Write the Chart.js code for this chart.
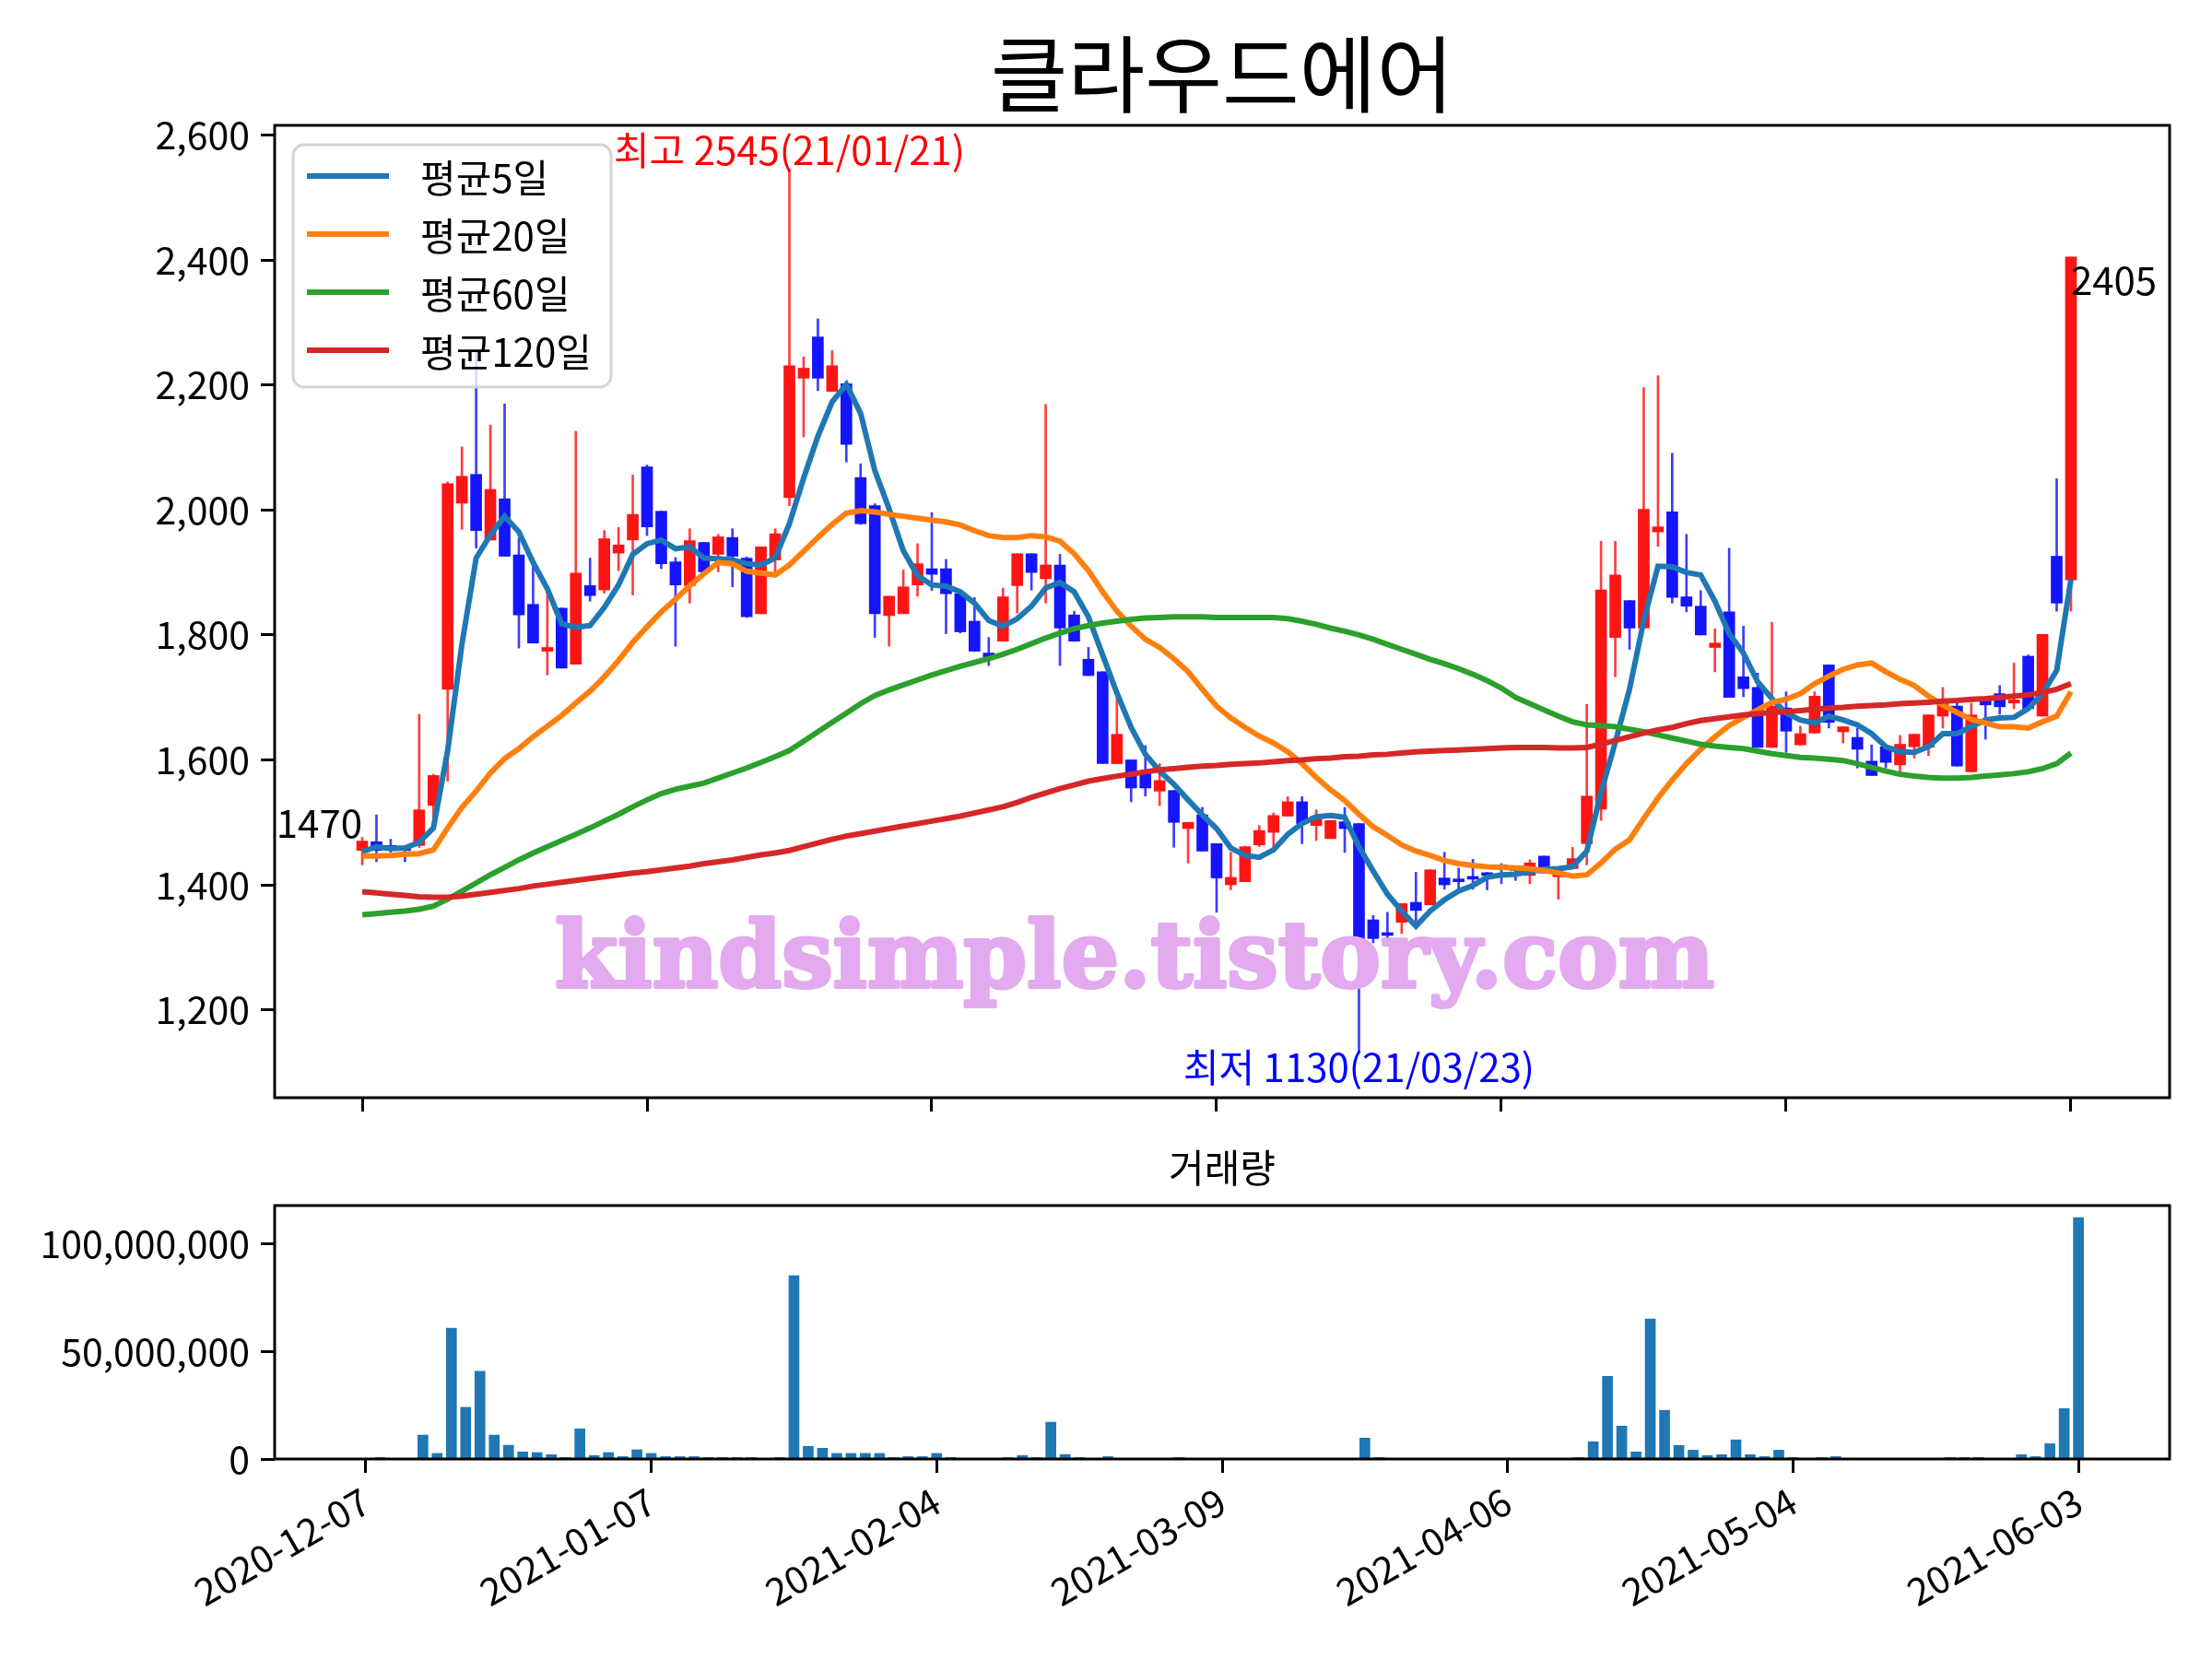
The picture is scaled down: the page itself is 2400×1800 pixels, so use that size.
<!DOCTYPE html>
<html>
<head>
<meta charset="utf-8">
<script src="https://cdn.jsdelivr.net/npm/chart.js@4.4.1/dist/chart.umd.min.js"></script>
<style>
  body { margin: 0; background: #fff; width: 2400px; height: 1800px; overflow: hidden; position: relative; }
  #price { position: absolute; left: 0; top: 0; }
  #volume { position: absolute; left: 0; top: 1230px; }
</style>
</head>
<body>
<canvas id="price" width="2400" height="1250"></canvas>
<canvas id="volume" width="2400" height="570"></canvas>
<script>
// DATA
const tickIdx = [0, 20, 40, 60, 80, 100, 120];
const tickLabels = ["2020-12-07", "2021-01-07", "2021-02-04", "2021-03-09", "2021-04-06", "2021-05-04", "2021-06-03"];

const openP = [1455, 1469, 1463, 1458, 1463, 1527, 1713, 2011, 2057, 1952, 2018, 1928, 1849, 1774, 1843, 1753, 1879, 1872, 1931, 1952,
  2069, 1998, 1917, 1879, 1948, 1929, 1956, 1923, 1834, 1920, 2020, 2211, 2277, 2190, 2202, 2052, 2007, 1831, 1834, 1880,
  1906, 1906, 1866, 1822, 1771, 1790, 1879, 1930, 1890, 1912, 1832, 1761, 1741, 1594, 1600, 1582, 1550, 1551, 1490, 1512,
  1466, 1400, 1405, 1464, 1484, 1510, 1533, 1495, 1474, 1501, 1498, 1344, 1323, 1340, 1372, 1368, 1411, 1407, 1412, 1417,
  1432, 1426, 1415, 1446, 1413, 1426, 1466, 1521, 1796, 1855, 1811, 1965, 1997, 1861, 1846, 1780, 1837, 1733, 1716, 1620,
  1683, 1624, 1643, 1752, 1645, 1636, 1598, 1621, 1592, 1621, 1620, 1670, 1686, 1581, 1696, 1706, 1691, 1766, 1670, 1926, 1888];
const highP = [1476, 1512, 1473, 1462, 1673, 1577, 2045, 2101, 2257, 2136, 2170, 1955, 1923, 1870, 1843, 2126, 1923, 1967, 1972, 2056,
  2072, 1998, 1924, 1970, 1948, 1961, 1970, 1925, 1941, 1970, 2545, 2245, 2306, 2255, 2202, 2074, 2010, 1862, 1904, 1946,
  1996, 1921, 1868, 1860, 1796, 1875, 1930, 1930, 2169, 1929, 1838, 1780, 1741, 1713, 1600, 1623, 1594, 1551, 1500, 1524,
  1466, 1452, 1462, 1495, 1515, 1541, 1541, 1520, 1503, 1524, 1498, 1351, 1356, 1370, 1420, 1424, 1452, 1427, 1441, 1420,
  1434, 1430, 1440, 1446, 1425, 1460, 1689, 1950, 1950, 1855, 2196, 2215, 2091, 1961, 1871, 1810, 1939, 1814, 1739, 1820,
  1709, 1654, 1709, 1752, 1653, 1651, 1624, 1621, 1639, 1641, 1672, 1716, 1691, 1691, 1696, 1719, 1755, 1768, 1801, 2050, 2405];
const lowP = [1432, 1437, 1452, 1437, 1460, 1491, 1566, 1969, 1939, 1952, 1926, 1779, 1787, 1736, 1747, 1753, 1854, 1867, 1903, 1864,
  1959, 1906, 1782, 1851, 1901, 1901, 1877, 1828, 1834, 1901, 2007, 2117, 2191, 2190, 2077, 1977, 1796, 1782, 1834, 1862,
  1871, 1802, 1803, 1774, 1751, 1790, 1835, 1872, 1851, 1751, 1790, 1735, 1594, 1594, 1533, 1542, 1527, 1460, 1435, 1454,
  1356, 1392, 1405, 1461, 1461, 1510, 1466, 1471, 1474, 1452, 1130, 1307, 1314, 1322, 1341, 1368, 1393, 1393, 1393, 1392,
  1402, 1407, 1402, 1419, 1377, 1426, 1432, 1503, 1733, 1777, 1811, 1942, 1851, 1837, 1800, 1741, 1700, 1701, 1620, 1620,
  1612, 1624, 1643, 1651, 1627, 1587, 1575, 1587, 1582, 1603, 1607, 1651, 1590, 1581, 1633, 1673, 1682, 1682, 1670, 1838, 1838];
const closeP = [1470, 1455, 1455, 1455, 1520, 1575, 2042, 2054, 1967, 2033, 1926, 1832, 1787, 1780, 1747, 1899, 1863, 1954, 1944, 1993,
  1973, 1914, 1880, 1951, 1901, 1957, 1926, 1829, 1941, 1962, 2231, 2227, 2211, 2231, 2105, 1978, 1834, 1862, 1877, 1914,
  1897, 1866, 1805, 1774, 1761, 1861, 1930, 1900, 1912, 1811, 1790, 1735, 1594, 1641, 1555, 1555, 1567, 1500, 1500, 1454,
  1411, 1412, 1461, 1487, 1511, 1533, 1498, 1510, 1503, 1490, 1309, 1314, 1319, 1370, 1359, 1424, 1400, 1405, 1409, 1415,
  1425, 1423, 1435, 1419, 1415, 1442, 1542, 1872, 1896, 1811, 2001, 1973, 1860, 1846, 1800, 1787, 1700, 1714, 1620, 1686,
  1646, 1642, 1702, 1660, 1653, 1617, 1575, 1596, 1625, 1641, 1672, 1692, 1590, 1672, 1688, 1685, 1696, 1682, 1801, 1851, 2405];

const ma5 = [1453, 1461, 1458, 1459, 1468, 1491, 1615, 1785, 1923, 1960, 1990, 1965, 1916, 1874, 1818, 1812, 1815, 1844, 1880, 1929,
  1946, 1952, 1938, 1941, 1923, 1922, 1920, 1914, 1912, 1923, 1978, 2051, 2118, 2173, 2201, 2155, 2063, 2002, 1935, 1895,
  1880, 1878, 1869, 1851, 1823, 1814, 1826, 1846, 1875, 1884, 1869, 1829, 1768, 1707, 1652, 1609, 1582, 1561, 1536, 1512,
  1490, 1459, 1447, 1444, 1456, 1481, 1498, 1509, 1511, 1508, 1461, 1422, 1385, 1358, 1334, 1358, 1376, 1390, 1399, 1412,
  1416, 1417, 1421, 1425, 1426, 1429, 1454, 1548, 1628, 1713, 1823, 1910, 1909, 1900, 1896, 1854, 1802, 1771, 1725, 1698,
  1675, 1664, 1659, 1670, 1664, 1656, 1642, 1621, 1613, 1612, 1621, 1642, 1642, 1653, 1664, 1667, 1668, 1682, 1706, 1743, 1889];
const ma20 = [1446, 1446, 1447, 1449, 1450, 1456, 1491, 1524, 1550, 1579, 1602, 1618, 1637, 1654, 1671, 1691, 1710, 1733, 1759, 1788,
  1813, 1837, 1857, 1879, 1898, 1916, 1914, 1902, 1899, 1896, 1912, 1934, 1956, 1977, 1995, 1999, 1997, 1993, 1990, 1987,
  1984, 1981, 1976, 1967, 1959, 1956, 1956, 1959, 1957, 1950, 1930, 1903, 1869, 1838, 1814, 1793, 1780, 1762, 1741, 1713,
  1686, 1667, 1652, 1638, 1627, 1613, 1594, 1572, 1552, 1535, 1513, 1493, 1479, 1464, 1454, 1447, 1439, 1434, 1431, 1429,
  1428, 1427, 1426, 1423, 1419, 1414, 1416, 1435, 1457, 1472, 1506, 1539, 1568, 1594, 1617, 1637, 1655, 1668, 1680, 1692,
  1697, 1706, 1722, 1734, 1745, 1752, 1755, 1741, 1729, 1719, 1702, 1688, 1676, 1665, 1659, 1653, 1653, 1651, 1661, 1670, 1709];
const ma60 = [1352, 1354, 1356, 1358, 1361, 1366, 1377, 1390, 1403, 1416, 1428, 1440, 1451, 1461, 1471, 1481, 1491, 1502, 1513, 1525,
  1536, 1546, 1553, 1558, 1563, 1571, 1579, 1587, 1596, 1605, 1615, 1630, 1645, 1660, 1675, 1690, 1703, 1712, 1720, 1728,
  1736, 1743, 1750, 1756, 1762, 1769, 1777, 1786, 1795, 1803, 1810, 1815, 1819, 1822, 1825, 1827, 1828, 1829, 1829, 1829,
  1828, 1828, 1828, 1828, 1828, 1826, 1822, 1817, 1811, 1806, 1800, 1793, 1785, 1777, 1769, 1761, 1754, 1746, 1737, 1727,
  1715, 1700, 1690, 1680, 1670, 1661, 1656, 1655, 1653, 1649, 1645, 1640, 1635, 1630, 1625, 1622, 1620, 1618, 1614, 1610,
  1607, 1604, 1603, 1601, 1599, 1594, 1588, 1582, 1577, 1574, 1572, 1571, 1571, 1572, 1574, 1576, 1578, 1581, 1586, 1594, 1611];
const ma120 = [1389, 1387, 1385, 1383, 1381, 1380, 1380, 1382, 1385, 1388, 1391, 1394, 1398, 1401, 1404, 1407, 1410, 1413, 1416, 1419,
  1421, 1424, 1427, 1430, 1434, 1437, 1440, 1444, 1448, 1451, 1455, 1461, 1467, 1473, 1478, 1482, 1486, 1490, 1494, 1498,
  1502, 1506, 1510, 1515, 1520, 1525, 1532, 1540, 1547, 1554, 1560, 1566, 1570, 1574, 1577, 1581, 1584, 1586, 1588, 1590,
  1591, 1593, 1594, 1595, 1597, 1599, 1600, 1602, 1603, 1605, 1606, 1608, 1609, 1611, 1613, 1614, 1615, 1616, 1617, 1618,
  1619, 1620, 1620, 1620, 1619, 1619, 1620, 1625, 1631, 1637, 1643, 1648, 1652, 1658, 1663, 1666, 1669, 1672, 1674, 1676,
  1677, 1679, 1681, 1683, 1684, 1686, 1687, 1688, 1690, 1691, 1692, 1694, 1695, 1697, 1698, 1700, 1702, 1704, 1708, 1713, 1722];

const volume = [300000, 700000, 300000, 300000, 11100000, 2600000, 60700000, 24000000, 40700000, 11100000,
  6400000, 3300000, 3000000, 2000000, 700000, 14000000, 1600000, 3000000, 1100000, 4300000,
  2600000, 1100000, 1100000, 1100000, 700000, 700000, 700000, 700000, 300000, 700000,
  85100000, 5900000, 5000000, 2600000, 2600000, 2600000, 2600000, 700000, 1100000, 1100000,
  2600000, 700000, 300000, 300000, 300000, 700000, 1600000, 700000, 17100000, 2100000,
  700000, 300000, 1100000, 300000, 300000, 300000, 300000, 700000, 300000, 300000,
  300000, 300000, 300000, 300000, 300000, 300000, 300000, 300000, 300000, 300000,
  9700000, 700000, 300000, 300000, 300000, 300000, 300000, 300000, 300000, 300000,
  300000, 300000, 300000, 300000, 300000, 700000, 8000000, 38400000, 15300000, 3300000,
  65000000, 22600000, 6300000, 4100000, 1600000, 2000000, 8900000, 2000000, 1100000, 4100000,
  700000, 300000, 700000, 1100000, 300000, 300000, 300000, 300000, 300000, 300000,
  300000, 700000, 700000, 700000, 300000, 300000, 2000000, 1100000, 7100000, 23400000, 112100000];

// STYLE
const FONT = "'Noto Sans CJK KR', 'Noto Sans', sans-serif";
const UP_BODY = "#ff1414", UP_WICK = "rgba(255, 40, 40, 0.9)";
const DOWN_BODY = "#1414ff", DOWN_WICK = "rgba(40, 40, 255, 0.9)";
const up = closeP.map((c, i) => c >= openP[i]);
const pts = (arr) => arr.map((v, i) => ({ x: i, y: v }));
const comma = (v) => Number(v).toLocaleString("en-US");

const frame = {
    id: "frame",
    afterDraw(chart) {
        const { ctx, chartArea: a } = chart;
        ctx.save();
        ctx.strokeStyle = "#000";
        ctx.lineWidth = 3;
        ctx.strokeRect(a.left, a.top, a.right - a.left, a.bottom - a.top);
        ctx.restore();
    },
};

const fixedTicks = (vals) => (scale) => {
    scale.ticks = vals.map((v) => ({ value: v }));
};

const xScale = (min, max, height, showLabels) => ({
    type: "linear",
    min,
    max,
    offset: false,
    afterBuildTicks: fixedTicks(tickIdx),
    afterFit: (s) => { s.height = height; },
    border: { display: false },
    grid: { offset: false, drawOnChartArea: false, drawTicks: true, tickLength: 15, tickWidth: 3, tickColor: "#000" },
    ticks: {
        color: "#000",
        font: { family: FONT, size: 41 },
        padding: 6,
        autoSkip: false,
        maxRotation: showLabels ? 30 : 0,
        minRotation: showLabels ? 30 : 0,
        callback: (v) => (showLabels ? tickLabels[tickIdx.indexOf(v)] : ""),
    },
});

const yScale = (min, max, vals) => ({
    min,
    max,
    afterBuildTicks: fixedTicks(vals),
    afterFit: (s) => { s.width = 298; },
    border: { display: false },
    grid: { drawOnChartArea: false, drawTicks: true, tickLength: 15, tickWidth: 3, tickColor: "#000" },
    ticks: { color: "#000", font: { family: FONT, size: 41 }, padding: 12, callback: comma },
});

// title, legend, annotations, watermark
const decor = {
    id: "decor",
    afterDraw(chart) {
        const { ctx, chartArea: a, scales } = chart;
        const x = scales.x, y = scales.y;
        ctx.save();
        // title
        ctx.fillStyle = "#000";
        ctx.font = `91px ${FONT}`;
        ctx.textAlign = "center";
        ctx.textBaseline = "middle";
        ctx.fillText("클라우드에어", (a.left + a.right) / 2, 80);

        // high / low / first / last labels
        ctx.font = `42px ${FONT}`;
        ctx.fillStyle = "#ff0000";
        ctx.textBaseline = "alphabetic";
        ctx.fillText("최고 2545(21/01/21)", x.getPixelForValue(30), y.getPixelForValue(2545) - 5);
        ctx.fillStyle = "#0000ff";
        ctx.textBaseline = "top";
        ctx.fillText("최저 1130(21/03/23)", x.getPixelForValue(70), y.getPixelForValue(1130) - 6);
        ctx.fillStyle = "#000";
        ctx.textAlign = "right";
        ctx.textBaseline = "alphabetic";
        ctx.fillText("1470", x.getPixelForValue(0), y.getPixelForValue(1470) - 4);
        ctx.textAlign = "left";
        ctx.textBaseline = "top";
        ctx.fillText("2405", x.getPixelForValue(120), y.getPixelForValue(2405) + 4);

        // legend
        const lx = a.left + 20, ly = a.top + 21, lw = 345, lh = 263;
        ctx.fillStyle = "rgba(255,255,255,0.8)";
        ctx.strokeStyle = "#d4d4d4";
        ctx.lineWidth = 3;
        ctx.beginPath();
        ctx.roundRect(lx, ly, lw, lh, 12);
        ctx.fill();
        ctx.stroke();
        const items = chart.data.datasets.filter((d) => d.type === "line").sort((p, q) => p.legendRank - q.legendRank);
        ctx.font = `42px ${FONT}`;
        ctx.textAlign = "left";
        ctx.textBaseline = "middle";
        items.forEach((d, i) => {
            const ry = ly + 34 + i * 63;
            ctx.strokeStyle = d.borderColor;
            ctx.lineWidth = 6;
            ctx.beginPath();
            ctx.moveTo(lx + 15, ry);
            ctx.lineTo(lx + 104, ry);
            ctx.stroke();
            ctx.fillStyle = "#000";
            ctx.fillText(d.label, lx + 138, ry + 2);
        });

        // watermark, stretched to the reference width
        const mark = "kindsimple.tistory.com";
        ctx.font = `bold 100px 'DejaVu Serif', serif`;
        const w = ctx.measureText(mark).width;
        ctx.translate(1231, 1071);
        ctx.scale(1258 / w, 1);
        ctx.fillStyle = "#e3aaef";
        ctx.strokeStyle = "#e3aaef";
        ctx.lineWidth = 4;
        ctx.lineJoin = "round";
        ctx.textAlign = "center";
        ctx.textBaseline = "alphabetic";
        ctx.strokeText(mark, 0, 0);
        ctx.fillText(mark, 0, 0);
        ctx.restore();
    },
};

const lineSet = (label, data, color, rank) => ({
    type: "line",
    label,
    data: pts(data),
    borderColor: color,
    borderWidth: 6,
    pointRadius: 0,
    tension: 0,
    legendRank: rank,
    order: 5 - rank,
});

new Chart(document.getElementById("price"), {
    type: "bar",
    data: {
        datasets: [
            lineSet("평균5일", ma5, "#1f77b4", 1),
            lineSet("평균20일", ma20, "#ff7f0e", 2),
            lineSet("평균60일", ma60, "#2ca02c", 3),
            lineSet("평균120일", ma120, "#d62728", 4),
            {
                label: "body",
                data: openP.map((o, i) => ({ x: i, y: [o, closeP[i]] })),
                backgroundColor: up.map((u) => (u ? UP_BODY : DOWN_BODY)),
                barThickness: 12,
                minBarLength: 3,
                grouped: false,
                order: 5,
            },
            {
                label: "wick",
                data: lowP.map((l, i) => ({ x: i, y: [l, highP[i]] })),
                backgroundColor: up.map((u) => (u ? UP_WICK : DOWN_WICK)),
                barThickness: 2,
                grouped: false,
                order: 6,
            },
        ],
    },
    options: {
        responsive: false,
        animation: false,
        layout: { padding: { top: 136, right: 46, left: 0, bottom: 0 } },
        plugins: { legend: { display: false }, tooltip: { enabled: false } },
        scales: {
            x: xScale(-6.15, 126.93, 59, false),
            y: yScale(1059.25, 2615.75, [1200, 1400, 1600, 1800, 2000, 2200, 2400, 2600]),
        },
    },
    plugins: [frame, decor],
});

const volTitle = {
    id: "volTitle",
    afterDraw(chart) {
        const { ctx, chartArea: a } = chart;
        ctx.save();
        ctx.fillStyle = "#000";
        ctx.font = `42px ${FONT}`;
        ctx.textAlign = "center";
        ctx.textBaseline = "middle";
        ctx.fillText("거래량", (a.left + a.right) / 2, 37);
        ctx.restore();
    },
};

new Chart(document.getElementById("volume"), {
    type: "bar",
    data: {
        datasets: [
            {
                label: "거래량",
                data: pts(volume),
                backgroundColor: "#1f77b4",
                barThickness: 11,
                grouped: false,
            },
        ],
    },
    options: {
        responsive: false,
        animation: false,
        layout: { padding: { top: 78, right: 46, left: 0, bottom: 0 } },
        plugins: { legend: { display: false }, tooltip: { enabled: false } },
        scales: {
            x: xScale(-6.385, 126.385, 217, true),
            y: yScale(0, Math.max(...volume) * 1.05, [0, 50000000, 100000000]),
        },
    },
    plugins: [frame, volTitle],
});
</script>
</body>
</html>
